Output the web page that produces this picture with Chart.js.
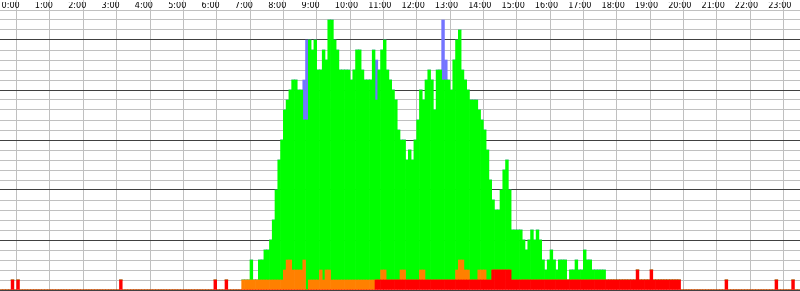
<!DOCTYPE html>
<html>
<head>
  <meta charset="UTF-8" />
  <title>Tagesverlauf</title>
  <script src="https://cdn.jsdelivr.net/npm/chart.js"></script>
  <style>
    body { margin: 0; background: #fff; }
    canvas { display: block; }
  </style>
</head>
<body>
  <canvas id="dayChart" width="800" height="291"></canvas>

  <script>
    // one value per 5 minutes, one line per hour (12 bins)
    const hourLabels = ['0:00', '1:00', '2:00', '3:00', '4:00', '5:00', '6:00', '7:00',
      '8:00', '9:00', '10:00', '11:00', '12:00', '13:00', '14:00', '15:00',
      '16:00', '17:00', '18:00', '19:00', '20:00', '21:00', '22:00', '23:00'];

    const red = [
      0,0,0,0,1,0,1,0,0,0,0,0,
      0,0,0,0,0,0,0,0,0,0,0,0,
      0,0,0,0,0,0,0,0,0,0,0,0,
      0,0,0,0,0,0,0,1,0,0,0,0,
      0,0,0,0,0,0,0,0,0,0,0,0,
      0,0,0,0,0,0,0,0,0,0,0,0,
      0,0,0,0,0,1,0,0,0,1,0,0,
      0,0,0,0,0,0,0,0,0,0,0,0,
      0,0,0,0,0,0,0,0,0,0,0,0,
      0,0,0,0,0,0,0,0,0,0,0,0,
      0,0,0,0,0,0,0,0,0,0,0,0,
      0,0,0,1,1,1,1,1,1,1,1,1,
      1,1,1,1,1,1,1,1,1,1,1,1,
      1,1,1,1,1,1,1,1,1,1,1,1,
      1,1,1,1,1,1,1,1,1,2,2,2,
      2,2,2,2,1,1,1,1,1,1,1,1,
      1,1,1,1,1,1,1,1,1,1,1,1,
      1,1,1,1,1,1,1,1,1,1,1,1,
      1,1,1,1,1,1,1,1,1,1,1,1,
      1,2,1,1,1,1,2,1,1,1,1,1,
      1,1,1,1,1,0,0,0,0,0,0,0,
      0,0,0,0,0,0,0,0,0,1,0,0,
      0,0,0,0,0,0,0,0,0,0,0,0,
      0,0,0,1,0,0,0,0,0,1,0,0
    ];

    const orange = [
      0,0,0,0,0,0,0,0,0,0,0,0,
      0,0,0,0,0,0,0,0,0,0,0,0,
      0,0,0,0,0,0,0,0,0,0,0,0,
      0,0,0,0,0,0,0,0,0,0,0,0,
      0,0,0,0,0,0,0,0,0,0,0,0,
      0,0,0,0,0,0,0,0,0,0,0,0,
      0,0,0,0,0,0,0,0,0,0,0,0,
      0,0,0,1,1,1,1,1,1,1,1,1,
      1,1,1,1,1,1,2,3,3,2,2,2,
      2,3,0,1,1,1,1,2,1,2,2,1,
      1,1,1,1,1,1,1,1,1,1,1,1,
      1,1,1,0,0,1,1,0,0,0,0,0,
      1,1,0,0,0,0,0,1,1,0,0,0,
      0,0,0,0,0,0,0,0,1,2,2,1,
      1,0,0,0,1,1,1,0,0,0,0,0,
      0,0,0,0,0,0,0,0,0,0,0,0,
      0,0,0,0,0,0,0,0,0,0,0,0,
      0,0,0,0,0,0,0,0,0,0,0,0,
      0,0,0,0,0,0,0,0,0,0,0,0,
      0,0,0,0,0,0,0,0,0,0,0,0,
      0,0,0,0,0,0,0,0,0,0,0,0,
      0,0,0,0,0,0,0,0,0,0,0,0,
      0,0,0,0,0,0,0,0,0,0,0,0,
      0,0,0,0,0,0,0,0,0,0,0,0
    ];

    const green = [
      0,0,0,0,0,0,0,0,0,0,0,0,
      0,0,0,0,0,0,0,0,0,0,0,0,
      0,0,0,0,0,0,0,0,0,0,0,0,
      0,0,0,0,0,0,0,0,0,0,0,0,
      0,0,0,0,0,0,0,0,0,0,0,0,
      0,0,0,0,0,0,0,0,0,0,0,0,
      0,0,0,0,0,0,0,0,0,0,0,0,
      0,0,0,0,0,0,2,0,0,2,2,3,
      3,4,6,9,12,14,16,16,17,19,19,18,
      18,14,17,24,23,24,21,20,23,21,25,26,
      24,23,21,21,21,21,20,21,23,23,21,20,
      20,20,23,18,21,22,23,21,20,19,18,15,
      13,13,12,13,12,14,16,18,17,20,21,20,
      17,21,21,20,20,20,19,22,23,23,19,19,
      18,18,18,18,16,15,14,13,10,7,6,6,
      8,10,11,8,5,5,5,5,4,3,4,5,
      4,5,4,2,1,2,3,2,1,2,2,2,
      0,1,1,2,1,1,3,2,2,1,1,1,
      1,1,0,0,0,0,0,0,0,0,0,0,
      0,0,0,0,0,0,0,0,0,0,0,0,
      0,0,0,0,0,0,0,0,0,0,0,0,
      0,0,0,0,0,0,0,0,0,0,0,0,
      0,0,0,0,0,0,0,0,0,0,0,0,
      0,0,0,0,0,0,0,0,0,0,0,0
    ];

    const blue = [
      0,0,0,0,0,0,0,0,0,0,0,0,
      0,0,0,0,0,0,0,0,0,0,0,0,
      0,0,0,0,0,0,0,0,0,0,0,0,
      0,0,0,0,0,0,0,0,0,0,0,0,
      0,0,0,0,0,0,0,0,0,0,0,0,
      0,0,0,0,0,0,0,0,0,0,0,0,
      0,0,0,0,0,0,0,0,0,0,0,0,
      0,0,0,0,0,0,0,0,0,0,0,0,
      0,0,0,0,0,0,0,0,0,0,0,0,
      0,4,8,0,0,0,0,0,0,0,0,0,
      0,0,0,0,0,0,0,0,0,0,0,0,
      0,0,0,4,0,0,0,0,0,0,0,0,
      0,0,0,0,0,0,0,0,0,0,0,0,
      0,0,0,6,2,0,0,0,0,0,0,0,
      0,0,0,0,0,0,0,0,0,0,0,0,
      0,0,0,0,0,0,0,0,0,0,0,0,
      0,0,0,0,0,0,0,0,0,0,0,0,
      0,0,0,0,0,0,0,0,0,0,0,0,
      0,0,0,0,0,0,0,0,0,0,0,0,
      0,0,0,0,0,0,0,0,0,0,0,0,
      0,0,0,0,0,0,0,0,0,0,0,0,
      0,0,0,0,0,0,0,0,0,0,0,0,
      0,0,0,0,0,0,0,0,0,0,0,0,
      0,0,0,0,0,0,0,0,0,0,0,0
    ];

    const binMinutes = 5;
    const yMax = 28;

    // bar centre in minutes since midnight
    const points = arr => arr.map((v, i) => ({ x: i * binMinutes + binMinutes / 2, y: v }));

    const bar = (label, arr, color) => ({
      label,
      data: points(arr),
      backgroundColor: color,
      borderWidth: 0,
      barPercentage: 1,
      categoryPercentage: 1
    });

    const ctx = document.getElementById('dayChart').getContext('2d');
    new Chart(ctx, {
      type: 'bar',
      data: {
        datasets: [
          bar('rot', red, '#ff0000'),
          bar('orange', orange, '#ff8000'),
          bar('grün', green, '#00ff00'),
          bar('blau', blue, '#7474ff')
        ]
      },
      options: {
        responsive: false,
        devicePixelRatio: 1,
        animation: false,
        // top axis: 2 + 8 px, so the plot starts at y = 10
        layout: { padding: { top: 2, bottom: 1, left: 0, right: 0 } },
        plugins: {
          legend: { display: false },
          tooltip: { enabled: false }
        },
        scales: {
          x: {
            type: 'linear',
            position: 'top',
            stacked: true,
            min: 0,
            max: 1440,
            offset: false,
            z: 1,
            border: { display: false },
            grid: {
              color: '#c0c0c0',
              lineWidth: 1,
              drawTicks: true,
              tickLength: 10,
              tickColor: '#c0c0c0'
            },
            ticks: {
              stepSize: 60,
              autoSkip: false,
              maxRotation: 0,
              align: 'start',
              crossAlign: 'center',
              labelOffset: 1.5,
              padding: -6,
              color: '#000',
              font: { family: "'Liberation Sans Narrow', 'DejaVu Sans Condensed', sans-serif", size: 9, lineHeight: '10px' },
              callback: v => hourLabels[v / 60] || ''
            }
          },
          y: {
            stacked: true,
            min: 0,
            max: yMax,
            z: 1,
            border: { display: false },
            grid: {
              drawTicks: false,
              lineWidth: 1,
              color: c => (c.tick.value % 5 === 0 ? '#404040' : '#c0c0c0')
            },
            ticks: { display: false, stepSize: 1 }
          }
        }
      }
    });
  </script>
</body>
</html>
